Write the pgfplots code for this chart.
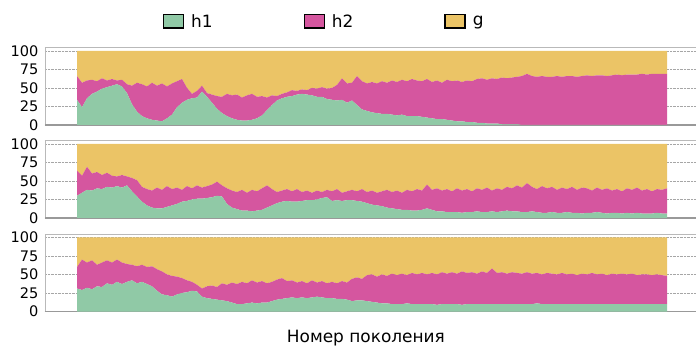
\documentclass[border=0pt]{standalone}
\usepackage{pgfplots}
\usepackage{pgfplotstable}
\pgfplotsset{compat=1.18}
\usepackage{fontspec}
\setmainfont{DejaVu Sans}
\definecolor{cgreen}{HTML}{90C9A6}
\definecolor{cmag}{HTML}{D5569F}
\definecolor{cyel}{HTML}{EBC466}

\pgfplotstableread{
x h1 h2 g
77 34 32 34
82 24 33 43
87 36 24 40
92 42 19 39
97 45 14 41
102 49 14 37
107 51 9 40
112 53 9 38
117 55 5 40
122 52 9 39
127 43 12 45
132 28 25 47
137 18 39 43
142 12 43 45
147 9 43 48
152 7 50 43
157 6 47 47
162 5 51 44
167 9 43 48
172 14 42 44
177 24 35 41
182 30 32 38
187 34 16 50
192 36 6 58
197 37 9 54
202 45 8 47
207 38 5 57
212 30 11 59
217 22 17 61
222 16 22 62
227 12 30 58
232 9 31 60
237 7 34 59
242 6 31 63
247 6 34 60
252 7 35 58
257 9 29 62
262 13 26 61
267 20 17 63
272 27 13 60
277 33 6 61
282 36 6 58
287 38 6 56
292 39 8 53
297 41 5 54
302 42 6 52
307 41 6 53
312 40 10 50
317 38 11 51
322 38 13 49
327 35 14 51
332 34 16 50
337 33 21 46
342 34 29 37
347 30 26 44
352 33 24 43
357 27 39 34
362 21 38 41
367 19 37 44
372 17 41 42
377 16 40 44
382 15 44 41
387 15 42 43
392 14 46 40
397 13 45 42
402 14 47 39
407 12 47 41
412 12 50 38
417 12 48 40
422 11 48 41
427 10 52 38
432 9 49 42
437 8 52 40
442 8 49 43
447 7 54 39
452 6 53 41
457 5 55 40
462 5 53 42
467 4 56 40
472 4 55 41
477 3 59 38
482 3 60 37
487 2 59 39
492 2 61 37
497 2 60 38
502 1 63 36
507 1 62 37
512 1 63 36
517 1 64 35
522 0 66 34
527 0 69 31
532 0 66 34
537 0 65 35
542 0 66 34
547 0 65 35
552 0 65 35
557 0 66 34
562 0 65 35
567 0 66 34
572 0 66 34
577 0 65 35
582 0 66 34
587 0 67 33
592 0 66 34
597 0 67 33
602 0 67 33
607 0 66 34
612 0 67 33
617 0 68 32
622 0 67 33
627 0 68 32
632 0 68 32
637 0 68 32
642 0 69 31
647 0 68 32
652 0 69 31
657 0 69 31
662 0 69 31
667 0 69 31
}\tA

\pgfplotstableread{
x h1 h2 g
77 30 34 36
82 34 23 43
87 38 31 31
92 37 23 40
97 40 22 38
102 39 19 42
107 42 19 39
112 41 16 43
117 43 13 44
122 41 17 42
127 44 12 44
132 36 18 46
137 29 22 49
142 22 20 58
147 17 22 61
152 14 23 63
157 13 28 59
162 13 25 62
167 15 28 57
172 17 22 61
177 19 22 59
182 22 16 62
187 23 20 57
192 25 15 60
197 26 18 56
202 26 15 59
207 27 16 57
212 28 17 55
217 30 19 51
222 29 15 56
227 19 21 60
232 14 23 63
237 12 23 65
242 10 28 62
247 10 24 66
252 9 29 62
257 10 26 64
262 11 29 60
267 14 30 56
272 17 22 61
277 20 15 65
282 22 15 63
287 23 16 61
292 22 14 64
297 22 17 61
302 23 12 65
307 24 13 63
312 24 10 66
317 25 12 63
322 27 8 65
327 28 10 62
332 23 13 64
337 24 15 61
342 23 11 66
347 24 12 64
352 24 14 62
357 23 13 64
362 22 17 61
367 20 15 65
372 18 19 63
377 17 17 66
382 16 20 64
387 14 24 62
392 13 22 65
397 12 25 63
402 11 23 66
407 11 27 62
412 10 26 64
417 10 29 61
422 11 26 63
427 13 32 55
432 11 27 62
437 9 31 60
442 9 28 63
447 8 31 61
452 8 28 64
457 8 32 60
462 7 30 63
467 8 31 61
472 8 28 64
477 9 31 60
482 8 30 62
487 8 33 59
492 9 28 63
497 8 32 60
502 9 29 62
507 10 32 58
512 9 31 60
517 9 35 56
522 8 33 59
527 8 39 53
532 9 33 58
537 8 31 61
542 7 36 57
547 7 33 60
552 8 34 58
557 7 31 62
562 7 34 59
567 8 31 61
572 7 35 58
577 7 31 62
582 6 35 59
587 7 33 60
592 7 30 63
597 8 33 59
602 7 31 62
607 6 34 60
612 7 30 63
617 7 32 61
622 6 30 64
627 7 33 60
632 6 32 62
637 7 34 59
642 6 31 63
647 6 33 61
652 6 30 64
657 7 32 61
662 6 32 62
667 6 34 60
}\tB

\pgfplotstableread{
x h1 h2 g
77 31 29 40
82 29 41 30
87 32 34 34
92 30 39 31
97 34 29 37
102 33 33 34
107 38 31 31
112 36 30 34
117 40 30 30
122 37 29 34
127 40 24 36
132 42 21 37
137 38 23 39
142 40 23 37
147 37 23 40
152 34 27 39
157 28 29 43
162 23 31 46
167 22 28 50
172 20 28 52
177 23 24 53
182 25 20 55
187 26 16 58
192 28 12 60
197 27 9 64
202 20 11 69
207 18 16 66
212 17 18 65
217 16 17 67
222 15 23 62
227 14 22 64
232 12 27 61
237 10 27 63
242 10 30 60
247 11 27 62
252 12 30 58
257 11 28 61
262 12 29 59
267 12 26 62
272 14 26 60
277 16 27 57
282 17 28 55
287 18 23 59
292 19 23 58
297 18 21 61
302 19 22 59
307 18 20 62
312 19 23 58
317 20 19 61
322 19 22 59
327 18 20 62
332 18 22 60
337 17 21 62
342 17 24 59
347 16 23 61
352 14 30 56
357 15 31 54
362 15 29 56
367 14 35 51
372 13 37 50
377 12 35 53
382 11 39 50
387 11 37 52
392 10 41 49
397 10 39 51
402 10 41 49
407 11 38 51
412 10 42 48
417 10 40 50
422 10 42 48
427 10 40 50
432 10 42 48
437 9 41 50
442 10 43 47
447 10 41 49
452 10 43 47
457 10 41 49
462 9 45 46
467 10 42 48
472 10 43 47
477 10 41 49
482 10 44 46
487 10 42 48
492 10 48 42
497 10 42 48
502 10 43 47
507 10 41 49
512 10 43 47
517 10 42 48
522 10 41 49
527 10 43 47
532 10 41 49
537 11 41 48
542 10 40 50
547 10 42 48
552 10 41 49
557 10 40 50
562 10 42 48
567 10 40 50
572 10 41 49
577 10 39 51
582 10 41 49
587 10 40 50
592 10 42 48
597 10 40 50
602 10 41 49
607 10 39 51
612 10 41 49
617 10 40 50
622 10 41 49
627 10 40 50
632 10 41 49
637 10 39 51
642 10 40 50
647 10 40 50
652 10 39 51
657 10 40 50
662 10 39 51
667 10 38 52
}\tC

\pgfplotsset{
  panel/.style={
    scale only axis, width=651bp, height=77.5bp,
    xmin=45, xmax=696, ymin=0, ymax=104.5,
    stack plots=y,
    axis y line*=left, axis x line*=box,
    axis line style={draw=gray!55, line width=0.8bp},
    xtick=\empty, ytick={0,25,50,75,100},
    major tick length=0pt,
    ymajorgrids, grid style={densely dotted, gray!70, line width=0.6bp},
    /pgf/number format/assume math mode=true,
    yticklabel style={font=\fontsize{14.6}{15}\selectfont, inner xsep=0pt, xshift=-6.5bp},
    clip=false,
  },
}

\begin{document}
\begin{tikzpicture}
\path[use as bounding box] (0,0) rectangle (696bp,347bp);

\begin{axis}[panel, at={(45bp,222bp)}, anchor=south west,
  legend columns=3,
  legend style={at={(axis description cs:0.181,1)}, anchor=west, yshift=26bp,
    draw=none, fill=none, inner sep=0pt, outer sep=0pt,
    font=\fontsize{17}{17}\selectfont,
    nodes={inner xsep=0pt, inner ysep=1bp},
    /tikz/every odd column/.append style={column sep=7bp},
    /tikz/every even column/.append style={column sep=91bp}},
  legend image code/.code={\draw[#1, draw=black, line width=1.3bp] (0bp,-6.5bp) rectangle (20bp,7bp);},
]
\addplot[fill=cgreen, draw=none] table[x=x, y=h1]{\tA} \closedcycle;
\addlegendentry{h1}
\addplot[fill=cmag, draw=none] table[x=x, y=h2]{\tA} \closedcycle;
\addlegendentry{h2}
\addplot[fill=cyel, draw=none] table[x=x, y=g]{\tA} \closedcycle;
\addlegendentry{g}
\draw[gray!80, line width=1.4bp] (rel axis cs:0,0) -- (rel axis cs:1,0);
\end{axis}

\begin{axis}[panel, at={(45bp,129bp)}, anchor=south west]
\addplot[fill=cgreen, draw=none] table[x=x, y=h1]{\tB} \closedcycle;
\addplot[fill=cmag, draw=none] table[x=x, y=h2]{\tB} \closedcycle;
\addplot[fill=cyel, draw=none] table[x=x, y=g]{\tB} \closedcycle;
\draw[gray!80, line width=1.4bp] (rel axis cs:0,0) -- (rel axis cs:1,0);
\end{axis}

\begin{axis}[panel, at={(45bp,35.5bp)}, anchor=south west,
  xlabel={Номер поколения},
  xlabel style={at={(rel axis cs:0.493,0)}, anchor=base, yshift=-31bp, font=\fontsize{17}{17}\selectfont, inner sep=0pt},
]
\addplot[fill=cgreen, draw=none] table[x=x, y=h1]{\tC} \closedcycle;
\addplot[fill=cmag, draw=none] table[x=x, y=h2]{\tC} \closedcycle;
\addplot[fill=cyel, draw=none] table[x=x, y=g]{\tC} \closedcycle;
\draw[gray!80, line width=1.4bp] (rel axis cs:0,0) -- (rel axis cs:1,0);
\end{axis}
\end{tikzpicture}
\end{document}
